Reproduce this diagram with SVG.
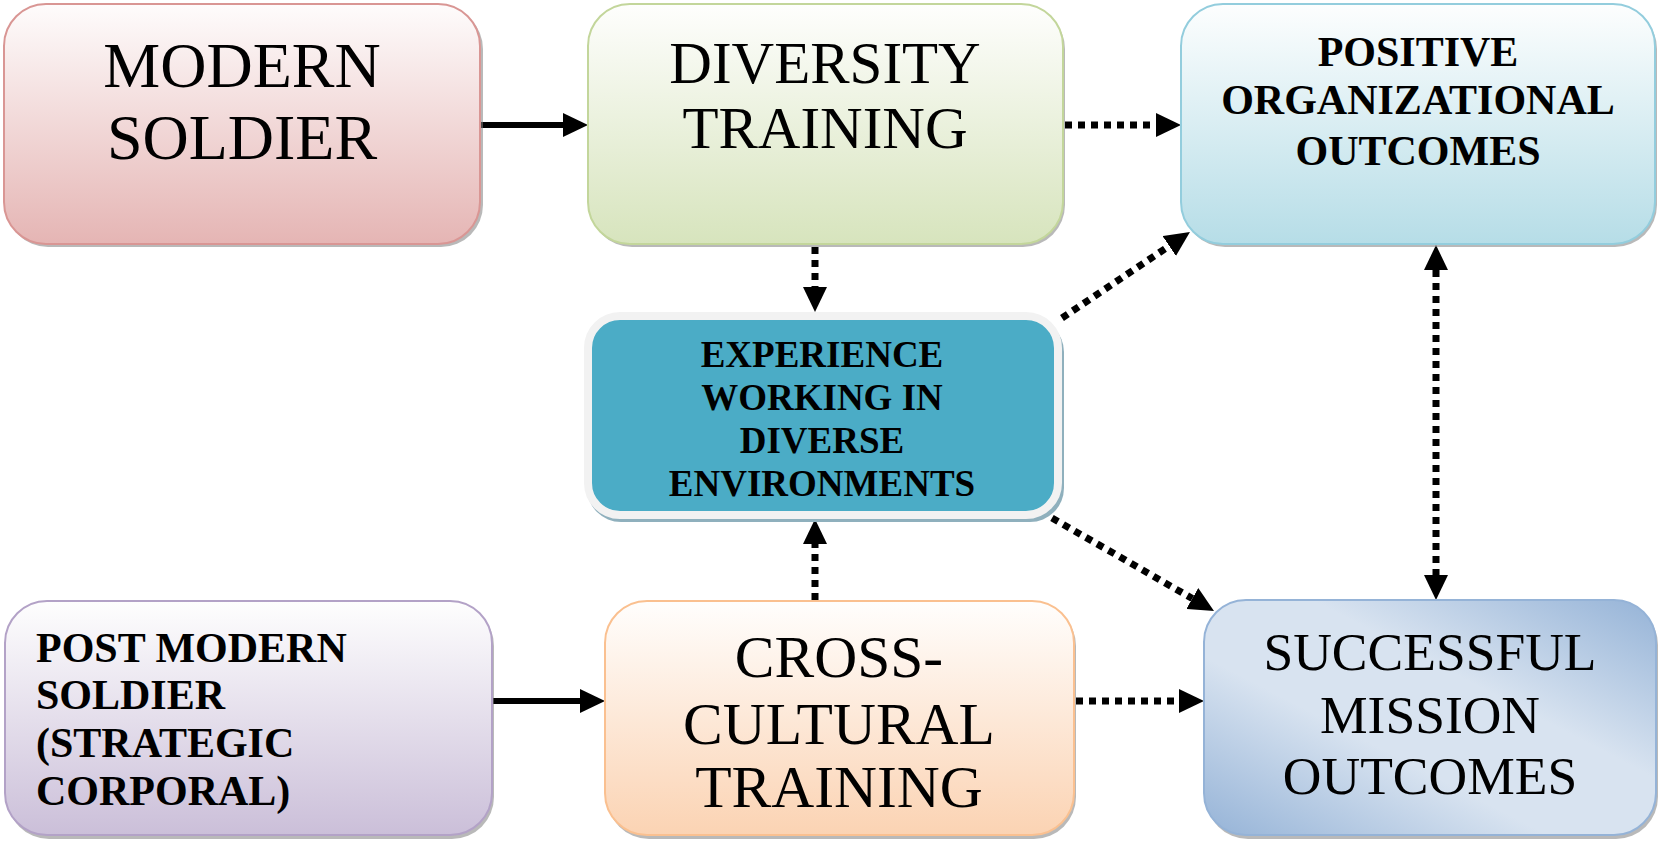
<svg xmlns="http://www.w3.org/2000/svg" width="1659" height="842" viewBox="0 0 1659 842">
<style>
.t{font-family:"Liberation Serif","Times New Roman",serif;fill:#000;text-anchor:middle}
.l{text-anchor:start}
.b{font-weight:bold}
.sh{fill:#7f7f7f;opacity:.55}
.solid{stroke:#000;stroke-width:6;fill:none}
.dot{stroke:#000;stroke-width:7;fill:none;stroke-dasharray:7 6}
</style>
<defs>
<linearGradient id="gRed" x1="0" y1="0" x2="0" y2="1"><stop offset="0" stop-color="#fefcfc"/><stop offset="1" stop-color="#e5b5b4"/></linearGradient>
<linearGradient id="gGreen" x1="0" y1="0" x2="0" y2="1"><stop offset="0" stop-color="#fefefd"/><stop offset="1" stop-color="#d7e4bd"/></linearGradient>
<linearGradient id="gBlue" x1="0" y1="0" x2="0" y2="1"><stop offset="0" stop-color="#fdfefe"/><stop offset="1" stop-color="#b6dde7"/></linearGradient>
<linearGradient id="gPurple" x1="0" y1="0" x2="0" y2="1"><stop offset="0" stop-color="#fefefe"/><stop offset="1" stop-color="#cbbfd9"/></linearGradient>
<linearGradient id="gOrange" x1="0" y1="0" x2="0" y2="1"><stop offset="0" stop-color="#fffefd"/><stop offset="1" stop-color="#fbd3b3"/></linearGradient>
<linearGradient id="gSteel" x1="1" y1="0" x2="0" y2="1"><stop offset="0" stop-color="#95b3d7"/><stop offset="0.38" stop-color="#d8e3f0"/><stop offset="0.62" stop-color="#d8e3f0"/><stop offset="1" stop-color="#95b3d7"/></linearGradient>
<marker id="ah" viewBox="0 0 25 24" refX="0" refY="12" markerWidth="25" markerHeight="24" markerUnits="userSpaceOnUse" orient="auto-start-reverse"><path d="M0,0 L25,12 L0,24 z" fill="#000"/></marker>
</defs>

<g id="connectors">
<path class="solid" d="M481,125 L563,125" marker-end="url(#ah)"/>
<path class="dot" d="M1065,125 L1156,125" marker-end="url(#ah)"/>
<path class="dot" d="M815,247 L815,287" marker-end="url(#ah)"/>
<path class="dot" d="M815,600 L815,544" marker-end="url(#ah)"/>
<path class="solid" d="M492,701 L580,701" marker-end="url(#ah)"/>
<path class="dot" d="M1076,701 L1179,701" marker-end="url(#ah)"/>
<path class="dot" d="M1062,318 L1169.2,246" marker-end="url(#ah)"/>
<path class="dot" d="M1052,518 L1192.3,598.5" marker-end="url(#ah)"/>
<path class="dot" d="M1436,270 L1436,575" marker-start="url(#ah)" marker-end="url(#ah)"/>
</g>

<g id="modern-soldier">
<rect class="sh" x="6" y="7" width="477" height="240" rx="42"/>
<rect x="4" y="4" width="476" height="240" rx="42" fill="url(#gRed)" stroke="#d99694" stroke-width="2"/>
<text class="t" x="242" y="87" font-size="64">MODERN</text>
<text class="t" x="242" y="159" font-size="64">SOLDIER</text>
</g>

<g id="diversity-training">
<rect class="sh" x="590" y="7" width="475" height="240" rx="42"/>
<rect x="588" y="4" width="475" height="240" rx="42" fill="url(#gGreen)" stroke="#c3d69b" stroke-width="2"/>
<text class="t" x="825" y="83" font-size="59">DIVERSITY</text>
<text class="t" x="825" y="148" font-size="59">TRAINING</text>
</g>

<g id="positive-outcomes">
<rect class="sh" x="1183" y="7" width="474" height="240" rx="42"/>
<rect x="1181" y="4" width="474" height="240" rx="42" fill="url(#gBlue)" stroke="#93cddd" stroke-width="2"/>
<text class="t b" x="1418" y="66" font-size="42">POSITIVE</text>
<text class="t b" x="1418" y="114" font-size="42">ORGANIZATIONAL</text>
<text class="t b" x="1418" y="165" font-size="42">OUTCOMES</text>
</g>

<g id="experience">
<rect x="587" y="318" width="477" height="204" rx="34" fill="#8fb0bd"/>
<rect x="588" y="316" width="470" height="199" rx="32" fill="#4bacc6" stroke="#f2f2f2" stroke-width="8"/>
<text class="t b" x="822" y="367" font-size="37">EXPERIENCE</text>
<text class="t b" x="822" y="410" font-size="37">WORKING IN</text>
<text class="t b" x="822" y="453" font-size="37">DIVERSE</text>
<text class="t b" x="822" y="496" font-size="37">ENVIRONMENTS</text>
</g>

<g id="post-modern-soldier">
<rect class="sh" x="7" y="604" width="487" height="235" rx="42"/>
<rect x="5" y="601" width="487" height="234" rx="42" fill="url(#gPurple)" stroke="#b3a2c7" stroke-width="2"/>
<text class="t b l" x="36" y="662" font-size="42">POST MODERN</text>
<text class="t b l" x="36" y="709" font-size="42">SOLDIER</text>
<text class="t b l" x="36" y="757" font-size="42">(STRATEGIC</text>
<text class="t b l" x="36" y="805" font-size="42">CORPORAL)</text>
</g>

<g id="cross-cultural-training">
<rect class="sh" x="607" y="604" width="469" height="235" rx="42"/>
<rect x="605" y="601" width="469" height="234" rx="42" fill="url(#gOrange)" stroke="#fac090" stroke-width="2"/>
<text class="t" x="839" y="677" font-size="59.5">CROSS-</text>
<text class="t" x="839" y="744" font-size="59.5">CULTURAL</text>
<text class="t" x="839" y="807" font-size="59.5">TRAINING</text>
</g>

<g id="successful-mission">
<rect class="sh" x="1206" y="603" width="452" height="236" rx="42"/>
<rect x="1204" y="600" width="452" height="235" rx="42" fill="url(#gSteel)" stroke="#95b3d7" stroke-width="2"/>
<text class="t" x="1430" y="670" font-size="53.5">SUCCESSFUL</text>
<text class="t" x="1430" y="733" font-size="53.5">MISSION</text>
<text class="t" x="1430" y="794" font-size="53.5">OUTCOMES</text>
</g>
</svg>
